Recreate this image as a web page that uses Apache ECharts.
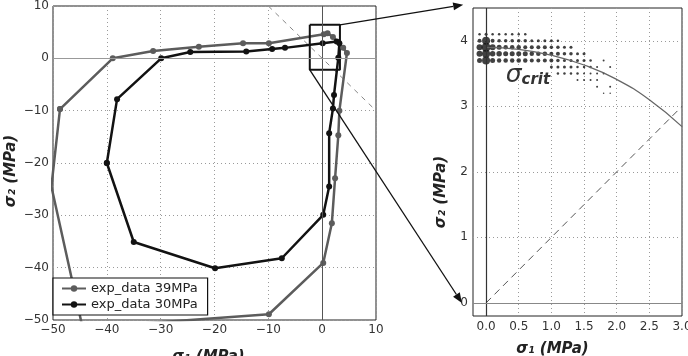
<!DOCTYPE html>
<html>
<head>
<meta charset="utf-8">
<script src="https://cdn.jsdelivr.net/npm/echarts@6/dist/echarts.min.js"></script>
<style>
    html, body { margin: 0; padding: 0; background: #fff; }
    #chartView { width: 688px; height: 356px; }
</style>
</head>
<body>
<div id="chartView"></div>
<script>
    // left panel: measured stress paths (sigma1, sigma2) in MPa
    var data39 = [[-48.7, -9.7], [-38.9, 0], [-31.4, 1.4], [-22.9, 2.2], [-14.7, 2.9], [-9.9, 2.9],
        [0.3, 4.6], [1.0, 4.8], [2.0, 4.1], [3.9, 2.0], [4.6, 1.0], [3.2, -10.0], [3.0, -14.7],
        [2.4, -22.9], [1.8, -31.5], [0.2, -39.1], [-9.9, -48.9], [-44.5, -51.5], [-50.3, -24.5], [-48.7, -9.7]];
    var data30 = [[-40, -20], [-38.1, -7.8], [-29.9, 0], [-24.5, 1.2], [-14.1, 1.3], [-9.3, 1.8], [-6.9, 2.0],
        [0.1, 2.9], [2.7, 3.2], [3.2, 2.9], [3.0, 0.1], [2.2, -7.0], [2.0, -9.6], [1.3, -14.3], [1.3, -24.5],
        [0.2, -29.9], [-7.5, -38.2], [-19.9, -40.1], [-35, -35.1], [-40, -20]];
    var diagLeft = [[-10, 10], [10, -10]];
    var boxXs = [-2.3, 3.3];
    var boxYs = [-2.2, 6.4];

    // right panel: zoomed view
    var curveCrit = [[0, 3.9], [0.5, 3.87], [1.0, 3.78], [1.5, 3.63], [2.0, 3.41], [2.5, 3.1], [3.0, 2.69]];
    var diagRight = [[0, 0], [3.0, 3.0]];
    var rightXTicks = [0, 0.5, 1.0, 1.5, 2.0, 2.5, 3.0];
    var rightYTicks = [0, 1, 2, 3, 4];
    var dotXs = [-0.1, 0.0, 0.1, 0.2, 0.3, 0.4, 0.5, 0.6, 0.7, 0.8, 0.9, 1.0, 1.1, 1.2, 1.3, 1.4, 1.5, 1.6, 1.7, 1.8, 1.9, 2.0];
    var dotRows = [4.1, 4.0, 3.9, 3.8, 3.7, 3.6, 3.5, 3.4, 3.3, 3.2];
    // dot diameter (px) per row / column, 0 = no dot
    var dotSizes = [
        [2.5, 3, 2.5, 2.5, 2.5, 2.5, 2.5, 2.5, 0, 0, 0, 0, 0, 0, 0, 0, 0, 0, 0, 0, 0, 0],
        [4, 8, 4, 3.5, 3.5, 3.5, 3.5, 3.5, 3, 3, 3, 3, 2.5, 0, 0, 0, 0, 0, 0, 0, 0, 0],
        [6, 9, 6, 5, 4.5, 4.5, 4.5, 4, 4, 4, 4, 3.5, 3.5, 3, 3, 0, 0, 0, 0, 0, 0, 0],
        [6, 8, 5.5, 5.5, 5, 5, 5, 5, 4.5, 4.5, 4.5, 4, 4, 3.5, 3.5, 3, 3, 0, 0, 0, 0, 0],
        [5, 8, 5, 4.5, 4.5, 4.5, 4.5, 4.5, 4, 4, 4, 4, 3.5, 3, 3, 3, 3, 2.5, 0, 2, 0, 0],
        [0, 0, 0, 0, 0, 0, 0, 0, 0, 0, 0, 3, 3, 3, 3, 2.5, 2.5, 2.5, 2, 0, 2, 0],
        [0, 0, 0, 0, 0, 0, 0, 0, 0, 0, 0, 0, 2.5, 2.5, 2.5, 2.5, 2, 2, 2, 2, 0, 0],
        [0, 0, 0, 0, 0, 0, 0, 0, 0, 0, 0, 0, 0, 0, 0, 2, 2, 2, 2, 0, 0, 0],
        [0, 0, 0, 0, 0, 0, 0, 0, 0, 0, 0, 0, 0, 0, 0, 0, 0, 0, 2, 0, 2, 0],
        [0, 0, 0, 0, 0, 0, 0, 0, 0, 0, 0, 0, 0, 0, 0, 0, 0, 0, 0, 1.5, 1.5, 0]
    ];

    var theFont = 'DejaVu Sans';
    var gridLine = {show: true, lineStyle: {color: '#9a9a9a', type: [1, 3], width: 1}};
    var nameStyle = {fontSize: 15, fontWeight: 'bold', fontStyle: 'italic', color: '#222', fontFamily: theFont};
    var labelStyle = {fontSize: 12, color: '#333', fontFamily: theFont};

    function minus(v) {
        return String(v).replace('-', '\u2212');
    }

    var dots = [];
    dotRows.forEach(function (y, i) {
        dotXs.forEach(function (x, j) {
            if (dotSizes[i][j] > 0) {
                dots.push([x, y, dotSizes[i][j]]);
            }
        });
    });

    var boxLine = [[boxXs[0], boxYs[1]], [boxXs[1], boxYs[1]], [boxXs[1], boxYs[0]],
        [boxXs[0], boxYs[0]], [boxXs[0], boxYs[1]]];

    var chartView = echarts.init(document.getElementById('chartView'));

    var option = {
        animation: false,
        backgroundColor: '#fff',
        grid: [
            {left: 53, top: 6, width: 323, height: 314, show: true, borderColor: '#222', borderWidth: 1,
                containLabel: false, outerBoundsMode: 'none'},
            {left: 473, top: 8, width: 209, height: 308, show: true, borderColor: '#222', borderWidth: 1,
                containLabel: false, outerBoundsMode: 'none'}
        ],
        legend: {
            orient: 'vertical',
            left: 53,
            top: 278,
            padding: [4, 10, 4, 8],
            itemGap: 3,
            itemWidth: 24,
            itemHeight: 8,
            borderColor: '#111',
            borderWidth: 1.2,
            backgroundColor: '#fff',
            textStyle: {fontSize: 13, color: '#222', fontFamily: theFont},
            data: ['exp_data 39MPa', 'exp_data 30MPa']
        },
        xAxis: [
            {
                gridIndex: 0, type: 'value', min: -50, max: 10, interval: 10,
                name: 'σ₁ (MPa)', nameLocation: 'middle', nameGap: 30,
                nameTextStyle: Object.assign({padding: [0, 12, 0, 0]}, nameStyle),
                axisLine: {show: false}, axisTick: {show: false},
                axisLabel: Object.assign({margin: 4, formatter: minus}, labelStyle),
                splitLine: gridLine
            },
            {
                gridIndex: 1, type: 'value', min: -0.2, max: 3.0,
                name: 'σ₁ (MPa)', nameLocation: 'middle', nameGap: 26,
                nameTextStyle: Object.assign({padding: [0, 50, 0, 0]}, nameStyle),
                axisLine: {show: false},
                axisTick: {show: false, customValues: rightXTicks},
                axisLabel: Object.assign({margin: 5, customValues: rightXTicks, formatter: function (v) {
                    return v.toFixed(1);
                }}, labelStyle),
                splitLine: gridLine
            }
        ],
        yAxis: [
            {
                gridIndex: 0, type: 'value', min: -50, max: 10, interval: 10,
                name: 'σ₂ (MPa)', nameLocation: 'middle', nameGap: 34,
                nameTextStyle: Object.assign({padding: [0, 16, 0, 0]}, nameStyle),
                axisLine: {show: false}, axisTick: {show: false},
                axisLabel: Object.assign({margin: 4, formatter: minus}, labelStyle),
                splitLine: gridLine
            },
            {
                gridIndex: 1, type: 'value', min: -0.2, max: 4.5,
                name: 'σ₂ (MPa)', nameLocation: 'middle', nameGap: 24,
                nameTextStyle: Object.assign({padding: [0, 60, 0, 0]}, nameStyle),
                axisLine: {show: false},
                axisTick: {show: false, customValues: rightYTicks},
                axisLabel: Object.assign({margin: 5, customValues: rightYTicks}, labelStyle),
                splitLine: gridLine
            }
        ],
        series: [
            {
                name: 'diag-left', type: 'line', xAxisIndex: 0, yAxisIndex: 0, data: diagLeft,
                symbol: 'none', silent: true,
                lineStyle: {color: '#888', width: 1, type: [5, 5]},
                markLine: {
                    silent: true, symbol: ['none', 'none'], label: {show: false},
                    data: [
                        {xAxis: 0, lineStyle: {color: '#555', width: 1, type: 'solid'}},
                        {yAxis: 0, lineStyle: {color: '#999', width: 1, type: 'solid'}}
                    ]
                }
            },
            {
                name: 'exp_data 39MPa', type: 'line', xAxisIndex: 0, yAxisIndex: 0, data: data39,
                symbol: 'circle', symbolSize: 6, color: '#5c5c5c',
                lineStyle: {width: 2.5, color: '#5c5c5c'}
            },
            {
                name: 'exp_data 30MPa', type: 'line', xAxisIndex: 0, yAxisIndex: 0, data: data30,
                symbol: 'circle', symbolSize: 6, color: '#121212',
                lineStyle: {width: 2.5, color: '#121212'}
            },
            {
                name: 'box', type: 'line', xAxisIndex: 0, yAxisIndex: 0, data: boxLine,
                symbol: 'none', silent: true, clip: false,
                lineStyle: {color: '#111', width: 2}
            },
            {
                name: 'dots', type: 'scatter', xAxisIndex: 1, yAxisIndex: 1, data: dots,
                symbolSize: function (v) { return v[2]; },
                itemStyle: {color: '#111'}, silent: true
            },
            {
                name: 'diag-right', type: 'line', xAxisIndex: 1, yAxisIndex: 1, data: diagRight,
                symbol: 'none', silent: true,
                lineStyle: {color: '#555', width: 1, type: [7, 5]},
                markLine: {
                    silent: true, symbol: ['none', 'none'], label: {show: false},
                    data: [
                        {xAxis: 0, lineStyle: {color: '#333', width: 1.2, type: 'solid'}},
                        {yAxis: 0, lineStyle: {color: '#888', width: 1.2, type: 'solid'}}
                    ]
                }
            },
            {
                name: 'crit', type: 'line', xAxisIndex: 1, yAxisIndex: 1, data: curveCrit,
                symbol: 'none', smooth: true, silent: true,
                lineStyle: {color: '#666', width: 1.3}
            }
        ]
    };
    chartView.setOption(option);

    // arrows from the zoom box to the right panel, and the sigma_crit label
    function arrow(p0, p1) {
        var dx = p1[0] - p0[0], dy = p1[1] - p0[1];
        var len = Math.sqrt(dx * dx + dy * dy);
        var ux = dx / len, uy = dy / len;
        var hl = 10, hw = 4;
        var bx = p1[0] - ux * hl, by = p1[1] - uy * hl;
        return [
            {type: 'line', silent: true, z: 100,
                shape: {x1: p0[0], y1: p0[1], x2: bx, y2: by},
                style: {stroke: '#111', lineWidth: 1.3}},
            {type: 'polygon', silent: true, z: 100,
                shape: {points: [[p1[0], p1[1]], [bx - uy * hw, by + ux * hw], [bx + uy * hw, by - ux * hw]]},
                style: {fill: '#111'}}
        ];
    }

    var pTR = chartView.convertToPixel({gridIndex: 0}, [boxXs[1], boxYs[1]]);
    var pBL = chartView.convertToPixel({gridIndex: 0}, [boxXs[0], boxYs[0]]);
    var qTop = chartView.convertToPixel({gridIndex: 1}, [-0.35, 4.55]);
    var qBottom = chartView.convertToPixel({gridIndex: 1}, [-0.37, 0]);
    var qLabel = chartView.convertToPixel({gridIndex: 1}, [0.3, 3.47]);

    var graphics = arrow(pTR, qTop).concat(arrow(pBL, qBottom));
    graphics.push({
        type: 'text', silent: true, z: 100,
        style: {
            x: qLabel[0], y: qLabel[1],
            text: '{s|σ}{c|crit}',
            verticalAlign: 'middle',
            rich: {
                s: {fontSize: 25, fontStyle: 'italic', fill: '#333', fontFamily: theFont},
                c: {fontSize: 15, fontStyle: 'italic', fontWeight: 'bold', fill: '#333', fontFamily: theFont,
                    verticalAlign: 'bottom', padding: [8, 0, 0, 0]}
            }
        }
    });
    chartView.setOption({graphic: graphics});
</script>
</body>
</html>
